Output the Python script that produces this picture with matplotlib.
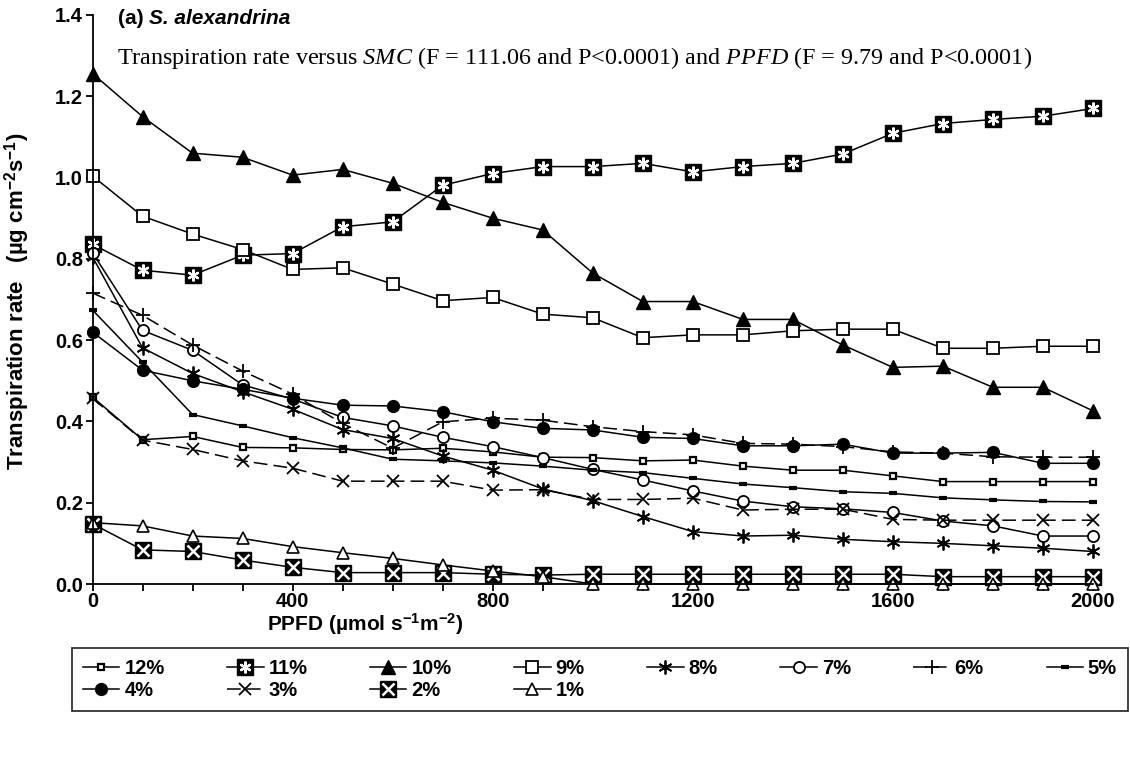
import matplotlib
matplotlib.use('Agg')
import matplotlib.pyplot as plt
from matplotlib.ticker import MultipleLocator, FuncFormatter

plt.rcParams['font.family'] = 'Liberation Sans'
plt.rcParams['mathtext.fontset'] = 'custom'
plt.rcParams['mathtext.rm'] = 'Liberation Sans:bold'
plt.rcParams['mathtext.it'] = 'Liberation Serif:italic'

# PPFD levels (umol s-1 m-2)
ppfd = [0, 100, 200, 300, 400, 500, 600, 700, 800, 900, 1000,
        1100, 1200, 1300, 1400, 1500, 1600, 1700, 1800, 1900, 2000]

# transpiration rate (ug cm-2 s-1) for each soil moisture content
smc12 = [0.460, 0.355, 0.363, 0.336, 0.335, 0.331, 0.330, 0.334, 0.325, 0.312, 0.311,
         0.303, 0.305, 0.290, 0.280, 0.280, 0.266, 0.252, 0.252, 0.252, 0.252]
smc11 = [0.836, 0.772, 0.760, 0.809, 0.813, 0.879, 0.891, 0.981, 1.010, 1.027, 1.027,
         1.035, 1.014, 1.027, 1.035, 1.058, 1.109, 1.133, 1.143, 1.151, 1.170]
smc10 = [1.256, 1.150, 1.060, 1.050, 1.006, 1.020, 0.986, 0.939, 0.900, 0.871, 0.765,
         0.695, 0.695, 0.651, 0.651, 0.588, 0.533, 0.536, 0.484, 0.484, 0.426]
smc9 = [1.004, 0.905, 0.861, 0.823, 0.774, 0.778, 0.738, 0.697, 0.705, 0.664, 0.655,
        0.606, 0.613, 0.613, 0.623, 0.627, 0.627, 0.580, 0.580, 0.585, 0.585]
smc8 = [0.805, 0.581, 0.518, 0.473, 0.430, 0.380, 0.358, 0.315, 0.280, 0.234, 0.205,
        0.166, 0.129, 0.118, 0.120, 0.110, 0.104, 0.100, 0.094, 0.088, 0.080]
smc7 = [0.815, 0.624, 0.575, 0.490, 0.455, 0.410, 0.389, 0.361, 0.338, 0.311, 0.282,
        0.256, 0.229, 0.204, 0.190, 0.185, 0.176, 0.155, 0.143, 0.118, 0.118]
smc6 = [0.716, 0.661, 0.588, 0.524, 0.467, 0.395, 0.334, 0.399, 0.408, 0.403, 0.387,
        0.375, 0.367, 0.346, 0.344, 0.338, 0.325, 0.322, 0.313, 0.312, 0.312]
smc5 = [0.674, 0.546, 0.417, 0.389, 0.360, 0.335, 0.307, 0.303, 0.298, 0.290, 0.280,
        0.274, 0.260, 0.246, 0.237, 0.227, 0.223, 0.212, 0.207, 0.203, 0.202]
smc4 = [0.620, 0.526, 0.500, 0.479, 0.457, 0.440, 0.438, 0.424, 0.399, 0.383, 0.379,
        0.361, 0.358, 0.340, 0.340, 0.344, 0.322, 0.322, 0.324, 0.297, 0.297]
smc3 = [0.457, 0.354, 0.331, 0.303, 0.285, 0.253, 0.253, 0.253, 0.231, 0.232, 0.208,
        0.208, 0.211, 0.182, 0.184, 0.184, 0.159, 0.157, 0.157, 0.157, 0.157]
smc2 = [0.148, 0.084, 0.080, 0.059, 0.041, 0.028, 0.028, 0.028, 0.024, 0.022, 0.024,
        0.024, 0.024, 0.024, 0.024, 0.024, 0.024, 0.018, 0.018, 0.018, 0.018]
smc1 = [0.151, 0.143, 0.118, 0.112, 0.092, 0.077, 0.063, 0.047, 0.032, 0.018, 0.000,
        0.000, 0.000, 0.000, 0.000, 0.000, 0.000, 0.000, 0.000, 0.000, 0.000]

labels = ['12%', '11%', '10%', '9%', '8%', '7%', '6%', '5%', '4%', '3%', '2%', '1%']
series = [smc12, smc11, smc10, smc9, smc8, smc7, smc6, smc5, smc4, smc3, smc2, smc1]

LW = 1.1
ASTER = (6, 2, 0)  # three-stroke asterisk
dashed = (0, (9, 4))

# (marker, size, face, edge width, linestyle, white overlay marker)
styles = [
    ('s', 4.5, 'white', 1.6, '-', None),
    ('s', 12, 'black', 1.0, '-', (ASTER, 8.5, 1.6)),
    ('^', 10, 'black', 1.0, '-', None),
    ('s', 8.5, 'white', 1.3, '-', None),
    (ASTER, 10, 'black', 1.3, '-', None),
    ('o', 8, 'white', 1.3, '-', None),
    ('+', 10, 'black', 1.3, dashed, None),
    ('_', 6, 'black', 3.0, '-', None),
    ('o', 8.5, 'black', 1.0, '-', None),
    ('x', 9, 'black', 1.3, dashed, None),
    ('s', 12, 'black', 1.0, '-', ('x', 8.5, 1.8)),
    ('^', 9, 'white', 1.2, '-', None),
]

fig = plt.figure(figsize=(11.3, 7.61), dpi=100)
ax = fig.add_axes([92.5 / 1130, 177 / 761, 1000.5 / 1130, 569 / 761])

handles = []
for vals, lab, (mk, ms, fc, mew, ls, over) in zip(series, labels, styles):
    ln, = ax.plot(ppfd, vals, color='black', lw=LW, ls=ls, marker=mk, ms=ms,
                  mfc=fc, mec='black', mew=mew, clip_on=False, label=lab)
    if over is not None:
        omk, oms, omew = over
        ov, = ax.plot(ppfd, vals, ls='none', marker=omk, ms=oms, mec='white',
                      mfc='white', mew=omew, clip_on=False)
        handles.append((ln, ov))
    else:
        handles.append(ln)

ax.set_xlim(0, 2000)
ax.set_ylim(0, 1.4)
ax.xaxis.set_major_locator(MultipleLocator(100))
ax.xaxis.set_major_formatter(FuncFormatter(lambda v, p: f'{v:.0f}' if round(v) % 400 == 0 else ''))
ax.yaxis.set_major_locator(MultipleLocator(0.2))
ax.yaxis.set_major_formatter(FuncFormatter(lambda v, p: f'{v:.1f}'))
for s in ['top', 'right']:
    ax.spines[s].set_visible(False)
for s in ['left', 'bottom']:
    ax.spines[s].set_linewidth(1.3)
ax.tick_params(direction='out', length=5, width=1.3, labelsize=14.5)
ax.tick_params(axis='x', pad=1)
ax.tick_params(axis='y', pad=2)
for t in ax.get_xticklabels() + ax.get_yticklabels():
    t.set_fontweight('bold')

# axis titles
fig.text(17 / 1130, 1 - 301 / 761, r'Transpiration rate   (µg cm$^{\mathrm{-2}}$s$^{\mathrm{-1}}$)',
         rotation=90, ha='center', va='center', fontsize=16, fontweight='bold')
fig.text(365 / 1130, 1 - 624 / 761, r'PPFD (µmol s$^{\mathrm{-1}}$m$^{\mathrm{-2}}$)',
         ha='center', va='center', fontsize=15, fontweight='bold')

# panel heading: "(a)" upright, species name italic
t1 = fig.text(118 / 1130, 1 - 28 / 761, '(a) ', fontsize=15, fontweight='bold', va='bottom')
ax.annotate('S. alexandrina', xy=(1, 0), xycoords=t1, va='bottom', ha='left',
            fontsize=15, fontweight='bold', fontstyle='italic')

fig.text(117 / 1130, 1 - 58 / 761,
         r'Transpiration rate versus $\mathit{SMC}$ (F = 111.06 and P<0.0001) and '
         r'$\mathit{PPFD}$ (F = 9.79 and P<0.0001)',
         family='Liberation Serif', fontsize=17.4, va='center', ha='left')

# legend laid out row by row: 12..5 on top, 4..1 below
order = [0, 8, 1, 9, 2, 10, 3, 11, 4, 5, 6, 7]
leg = fig.legend([handles[i] for i in order], [labels[i] for i in order],
                 ncols=8, loc='upper left',
                 bbox_to_anchor=(72 / 1130, 1 - 706 / 761, 1056 / 1130, 58 / 761),
                 mode='expand', frameon=True, fancybox=False, borderaxespad=0,
                 borderpad=0.55, handlelength=1.8, handletextpad=0.25, labelspacing=0.15,
                 prop={'weight': 'bold', 'size': 14.5})
leg.get_frame().set_edgecolor('black')
leg.get_frame().set_linewidth(1.3)

fig.savefig('out.png', dpi=100)
